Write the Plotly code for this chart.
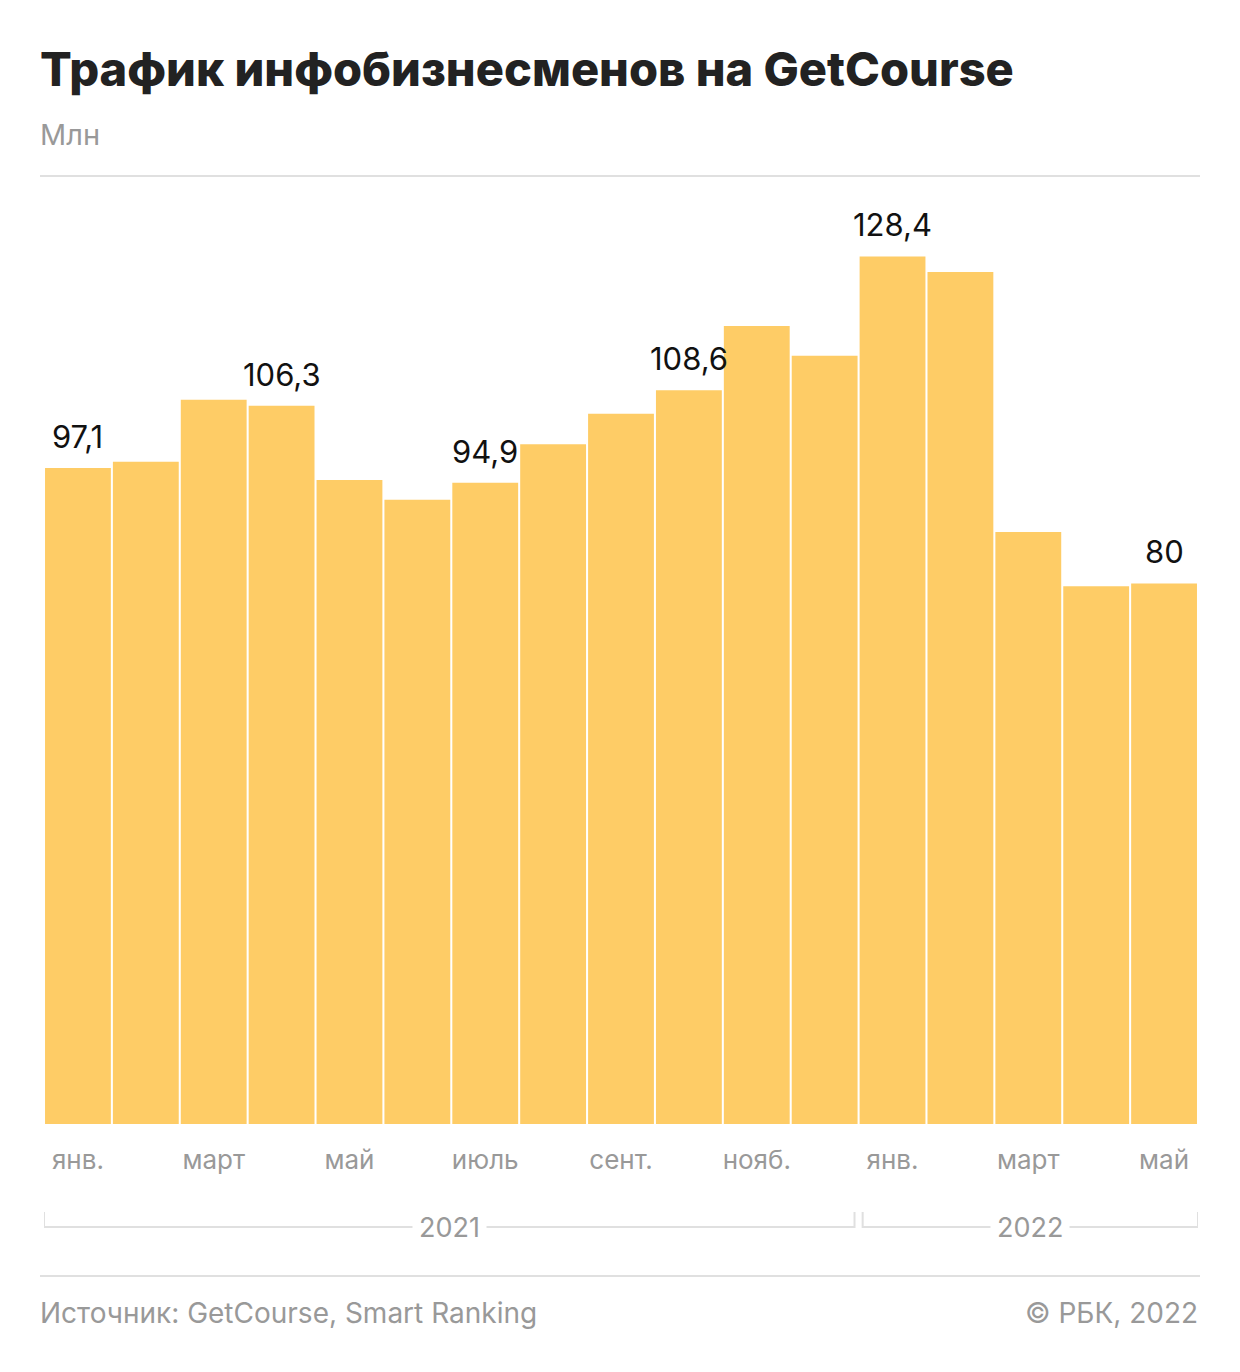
import plotly.graph_objects as go

months = ["янв.", "февр.", "март", "апр.", "май", "июнь", "июль", "авг.", "сент.",
          "окт.", "нояб.", "дек.", "янв.", "февр.", "март", "апр.", "май"]
values = [97.1, 98.0, 107.2, 106.3, 95.3, 92.4, 94.9, 100.6, 105.1,
          108.6, 118.1, 113.7, 128.4, 126.1, 87.6, 79.6, 80.0]
labels = ["97,1", "", "", "106,3", "", "", "94,9", "", "",
          "108,6", "", "", "128,4", "", "", "", "80"]
tick_idx = [0, 2, 4, 6, 8, 10, 12, 14, 16]
years = ["2021", "2022"]
year_counts = [12, 5]

BAR = "#FECC66"
GRAY = "#999999"
LINE = "#E0E0E0"
FONT = "Inter"

OFF = 8  # page body margin
L, R, T, B = 44 - OFF, 1198 - OFF, 176 - OFF, 1124 - OFF
PW, PH = R - L, B - T

def px_x(px):
    return (px - OFF - L) / PW

def px_y(py):
    return (B - (py - OFF)) / PH

x = list(range(len(months)))
fig = go.Figure(go.Bar(
    x=x, y=values, marker_color=BAR, marker_line_width=0, hoverinfo="skip",
))

for xi, v, lab in zip(x, values, labels):
    if lab:
        fig.add_annotation(x=xi, y=v, text=lab, showarrow=False, yanchor="bottom",
                           xanchor="center", yshift=11,
                           font=dict(family=FONT, size=31, color="#111111"))

fig.update_layout(
    width=1240, height=1372,
    margin=dict(l=L, r=1240 - R, t=T, b=1372 - B),
    paper_bgcolor="white", plot_bgcolor="white",
    bargap=0.03, showlegend=False,
    xaxis=dict(range=[-0.5, len(months) - 0.5], tickmode="array",
               tickvals=[x[i] for i in tick_idx],
               ticktext=[months[i] for i in tick_idx],
               tickfont=dict(family=FONT, size=26, color=GRAY),
               showgrid=False, zeroline=False, showline=False, ticks="",
               ticklabelstandoff=18),
    yaxis=dict(range=[0, 140.3], visible=False),
)

# title & subtitle
fig.add_annotation(text="Трафик инфобизнесменов на GetCourse",
                   xref="paper", yref="paper", x=px_x(38), y=px_y(68),
                   xanchor="left", yanchor="middle", showarrow=False,
                   font=dict(family=FONT, size=47, color="#222222", weight=800))
fig.add_annotation(text="Млн", xref="paper", yref="paper", x=px_x(38), y=px_y(135),
                   xanchor="left", yanchor="middle", showarrow=False,
                   font=dict(family=FONT, size=29, color=GRAY))
# top/bottom lines
for yy in (176, 1276):
    fig.add_shape(type="line", xref="paper", yref="paper",
                  x0=px_x(40), x1=px_x(1200), y0=px_y(yy), y1=px_y(yy),
                  line=dict(color=LINE, width=2))

# year brackets
start = -0.5
yb = px_y(1227)
yt = px_y(1212)
for i, (yr, cnt) in enumerate(zip(years, year_counts)):
    end = start + cnt
    a = start + (0.06 if i > 0 else 0)
    b = end - (0.06 if i < len(years) - 1 else 0)
    fig.add_shape(type="path", xref="x", yref="paper",
                  path=f"M {a},{yt} L {a},{yb} L {b},{yb} L {b},{yt}",
                  line=dict(color=LINE, width=2))
    fig.add_annotation(text=yr, xref="x", yref="paper", x=(a + b) / 2, y=yb,
                       xanchor="center", yanchor="middle", showarrow=False,
                       bgcolor="white", borderpad=6,
                       font=dict(family=FONT, size=27, color=GRAY))
    start = end

# footer
fig.add_annotation(text="Источник: GetCourse, Smart Ranking", xref="paper", yref="paper",
                   x=px_x(38), y=px_y(1313), xanchor="left", yanchor="middle",
                   showarrow=False, font=dict(family=FONT, size=28, color=GRAY))
fig.add_annotation(text="© РБК, 2022", xref="paper", yref="paper",
                   x=px_x(1200), y=px_y(1313), xanchor="right", yanchor="middle",
                   showarrow=False, font=dict(family=FONT, size=28, color=GRAY))

fig.write_html("out.html")
